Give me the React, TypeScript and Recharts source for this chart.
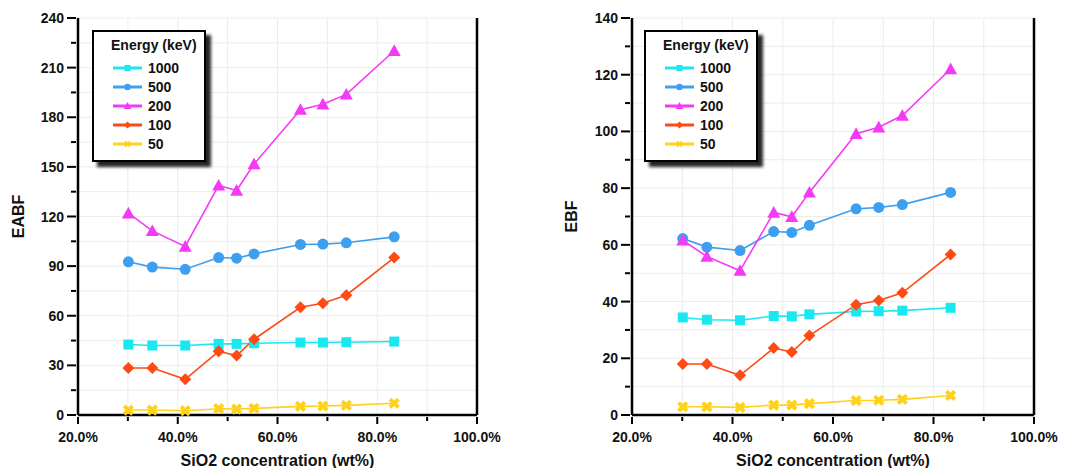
import { CartesianGrid, Legend, Line, LineChart, XAxis, YAxis } from "recharts";

// Two panels: EABF (left) and EBF (right) vs SiO2 content, one line per photon energy.

const SIO2 = [30.1, 34.9, 41.5, 48.2, 51.8, 55.3, 64.6, 69.1, 73.8, 83.4];
const X_TICKS = [20, 30, 40, 50, 60, 70, 80, 90, 100];

const EABF_1000 = [42.6, 42.0, 42.0, 43.0, 43.0, 43.4, 43.8, 43.8, 44.0, 44.4];
const EABF_500 = [92.6, 89.4, 88.1, 95.2, 94.8, 97.4, 103.1, 103.3, 104.1, 107.7];
const EABF_200 = [122.0, 111.3, 101.9, 138.8, 135.7, 151.7, 184.6, 187.8, 193.8, 220.2];
const EABF_100 = [28.4, 28.4, 21.6, 38.5, 35.9, 45.8, 65.1, 67.6, 72.4, 95.2];
const EABF_50 = [3.0, 3.0, 2.6, 3.8, 3.6, 4.0, 5.2, 5.4, 5.8, 7.1];
const EABF_TICKS = [0, 15, 30, 45, 60, 75, 90, 105, 120, 135, 150, 165, 180, 195, 210, 225, 240];

const EBF_1000 = [34.4, 33.6, 33.4, 34.9, 34.8, 35.5, 36.5, 36.6, 36.8, 37.8];
const EBF_500 = [62.2, 59.2, 58.0, 64.7, 64.4, 66.9, 72.7, 73.2, 74.2, 78.5];
const EBF_200 = [61.6, 55.9, 50.9, 71.4, 69.9, 78.5, 99.2, 101.5, 105.6, 122.0];
const EBF_100 = [18.0, 18.0, 14.0, 23.6, 22.2, 28.0, 38.9, 40.4, 43.1, 56.6];
const EBF_50 = [2.9, 2.9, 2.7, 3.5, 3.5, 4.0, 5.1, 5.2, 5.5, 6.9];
const EBF_TICKS = [0, 10, 20, 30, 40, 50, 60, 70, 80, 90, 100, 110, 120, 130, 140];

const SERIES = [
  { key: "e1000", name: "1000", color: "#19e8f0", shape: "square" },
  { key: "e500", name: "500", color: "#3d9ff0", shape: "circle" },
  { key: "e200", name: "200", color: "#f53af5", shape: "triangle" },
  { key: "e100", name: "100", color: "#ff4a16", shape: "diamond" },
  { key: "e50", name: "50", color: "#ffd21a", shape: "cross" }
];

const FONT = "'Liberation Sans', Arial, sans-serif";

function buildRows(cols: number[][]) {
  return SIO2.map((x, i) => ({
    x,
    e1000: cols[0][i],
    e500: cols[1][i],
    e200: cols[2][i],
    e100: cols[3][i],
    e50: cols[4][i]
  }));
}

const EABF_ROWS = buildRows([EABF_1000, EABF_500, EABF_200, EABF_100, EABF_50]);
const EBF_ROWS = buildRows([EBF_1000, EBF_500, EBF_200, EBF_100, EBF_50]);

function Marker({ shape, cx, cy, color, s = 1 }: any) {
  if (cx == null || cy == null) return null;
  if (shape === "square") {
    const h = 5 * s;
    return <rect x={cx - h} y={cy - h} width={2 * h} height={2 * h} fill={color} />;
  }
  if (shape === "circle") return <circle cx={cx} cy={cy} r={5.5 * s} fill={color} />;
  if (shape === "triangle") {
    const h = 6.5 * s;
    return (
      <polygon
        points={`${cx},${cy - h} ${cx + h},${cy + h * 0.8} ${cx - h},${cy + h * 0.8}`}
        fill={color}
      />
    );
  }
  if (shape === "diamond") {
    const h = 6 * s;
    return (
      <polygon points={`${cx},${cy - h} ${cx + h},${cy} ${cx},${cy + h} ${cx - h},${cy}`} fill={color} />
    );
  }
  const h = 4.2 * s;
  return (
    <path
      d={`M${cx - h},${cy - h}L${cx + h},${cy + h}M${cx + h},${cy - h}L${cx - h},${cy + h}`}
      stroke={color}
      strokeWidth={4 * s}
    />
  );
}

function AxisTick({ x, y, payload, side, major }: any) {
  const v = payload.value;
  const isMajor = major(v);
  const textStyle = { fontFamily: FONT, fontWeight: 700, fontSize: 14, fill: "#111" };
  if (side === "bottom") {
    return (
      <g>
        <line x1={x} y1={y} x2={x} y2={y + (isMajor ? 7 : 4)} stroke="#000" strokeWidth={2} />
        {isMajor && (
          <text x={x} y={y + 25} textAnchor="middle" style={textStyle}>
            {`${v.toFixed(1)}%`}
          </text>
        )}
      </g>
    );
  }
  if (side === "top") {
    return <line x1={x} y1={y} x2={x} y2={y + (isMajor ? 5 : 3)} stroke="#000" strokeWidth={2} />;
  }
  if (side === "right") {
    return <line x1={x} y1={y} x2={x - (isMajor ? 7 : 4)} y2={y} stroke="#000" strokeWidth={2} />;
  }
  return (
    <g>
      <line x1={x} y1={y} x2={x - (isMajor ? 9 : 5)} y2={y} stroke="#000" strokeWidth={2} />
      {isMajor && (
        <text x={x - 12} y={y + 5} textAnchor="end" style={textStyle}>
          {v}
        </text>
      )}
    </g>
  );
}

function EnergyLegend() {
  return (
    <div
      style={{
        width: 114,
        height: 132,
        boxSizing: "border-box",
        border: "2px solid #000",
        background: "#fff",
        boxShadow: "5px 5px 3px rgba(0,0,0,0.85)",
        padding: "4px 0 0 17px",
        fontFamily: FONT,
        fontWeight: 700,
        fontSize: 14,
        color: "#111"
      }}
    >
      <div style={{ lineHeight: "18px", whiteSpace: "nowrap" }}>Energy (keV)</div>
      <div style={{ marginTop: 5, marginLeft: 2 }}>
        {SERIES.map((s) => (
          <div key={s.key} style={{ display: "flex", alignItems: "center", height: 18.8 }}>
            <svg width={29} height={12} style={{ display: "block" }}>
              <line x1={0} y1={6} x2={29} y2={6} stroke={s.color} strokeWidth={3} />
              <Marker shape={s.shape} cx={14.5} cy={6} color={s.color} s={0.6} />
            </svg>
            <span style={{ marginLeft: 6, lineHeight: "18px" }}>{s.name}</span>
          </div>
        ))}
      </div>
    </div>
  );
}

function Panel({
  rows,
  yTicks,
  yMax,
  yMajor,
  yTitle,
  width,
  margin,
  yAxisWidth,
  titleOffset,
  legendLeft
}: any) {
  const xMajor = (v: number) => Math.round(v) % 20 === 0;
  return (
    <LineChart width={width} height={468} data={rows} margin={margin}>
      <CartesianGrid stroke="#ececec" strokeWidth={1} />
      <XAxis
        dataKey="x"
        type="number"
        domain={[20, 100]}
        ticks={X_TICKS}
        interval={0}
        height={53}
        tickSize={0}
        tickLine={false}
        axisLine={{ stroke: "#000", strokeWidth: 2.5 }}
        tick={(p: any) => <AxisTick {...p} side="bottom" major={xMajor} />}
        label={(p: any) => {
          const vb = p.viewBox;
          return (
            <text
              x={vb.x + vb.width / 2}
              y={466}
              textAnchor="middle"
              style={{ fontFamily: FONT, fontWeight: 700, fontSize: 16, fill: "#111" }}
            >
              SiO2 concentration (wt%)
            </text>
          );
        }}
      />
      <XAxis
        xAxisId="top"
        orientation="top"
        dataKey="x"
        type="number"
        domain={[20, 100]}
        ticks={X_TICKS}
        interval={0}
        height={0}
        tickSize={0}
        tickLine={false}
        axisLine={{ stroke: "#000", strokeWidth: 2.5 }}
        tick={(p: any) => <AxisTick {...p} side="top" major={xMajor} />}
      />
      <YAxis
        type="number"
        domain={[0, yMax]}
        ticks={yTicks}
        interval={0}
        width={yAxisWidth}
        tickSize={0}
        tickLine={false}
        axisLine={{ stroke: "#000", strokeWidth: 2.5 }}
        tick={(p: any) => <AxisTick {...p} side="left" major={yMajor} />}
        label={(p: any) => {
          const vb = p.viewBox;
          const cx = vb.x + vb.width - titleOffset;
          const cy = vb.y + vb.height / 2;
          return (
            <text
              x={cx}
              y={cy}
              dy={6}
              textAnchor="middle"
              transform={`rotate(-90 ${cx} ${cy})`}
              style={{ fontFamily: FONT, fontWeight: 700, fontSize: 16, fill: "#111" }}
            >
              {yTitle}
            </text>
          );
        }}
      />
      <YAxis
        yAxisId="right"
        orientation="right"
        type="number"
        domain={[0, yMax]}
        ticks={yTicks}
        interval={0}
        width={10}
        tickSize={0}
        tickLine={false}
        axisLine={{ stroke: "#000", strokeWidth: 2.5 }}
        tick={(p: any) => <AxisTick {...p} side="right" major={yMajor} />}
      />
      <Legend
        layout="vertical"
        align="center"
        verticalAlign="middle"
        wrapperStyle={{ left: legendLeft, top: 30, width: 114, height: 132 }}
        content={() => <EnergyLegend />}
      />
      {SERIES.map((s) => (
        <Line
          key={s.key}
          type="linear"
          dataKey={s.key}
          name={s.name}
          stroke={s.color}
          strokeWidth={1.6}
          isAnimationActive={false}
          activeDot={false}
          dot={(p: any) => (
            <Marker key={`${s.key}-${p.index}`} shape={s.shape} cx={p.cx} cy={p.cy} color={s.color} />
          )}
        />
      ))}
    </LineChart>
  );
}

export default function App() {
  return (
    <div style={{ position: "absolute", left: 0, top: 0, width: 1072, height: 468, background: "#fff" }}>
      <div style={{ position: "absolute", left: 0, top: 0 }}>
        <Panel
          rows={EABF_ROWS}
          yTicks={EABF_TICKS}
          yMax={240}
          yMajor={(v: number) => v % 30 === 0}
          yTitle="EABF"
          width={540}
          margin={{ top: 18, right: 53, bottom: 0, left: 8 }}
          yAxisWidth={70}
          titleOffset={60}
          legendLeft={92}
        />
      </div>
      <div style={{ position: "absolute", left: 536, top: 0 }}>
        <Panel
          rows={EBF_ROWS}
          yTicks={EBF_TICKS}
          yMax={140}
          yMajor={(v: number) => v % 20 === 0}
          yTitle="EBF"
          width={536}
          margin={{ top: 18, right: 28, bottom: 0, left: 8 }}
          yAxisWidth={88}
          titleOffset={61}
          legendLeft={108}
        />
      </div>
    </div>
  );
}
